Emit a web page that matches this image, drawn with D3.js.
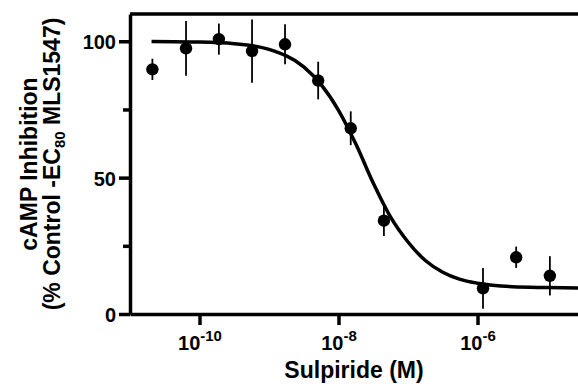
<!DOCTYPE html>
<html>
<head>
<meta charset="utf-8">
<script src="https://cdn.jsdelivr.net/npm/d3@7"></script>
<style>
  body { margin: 0; background: #fff; }
  svg { display: block; }
  text { font-family: "Liberation Sans", Arial, sans-serif; font-weight: bold; fill: #000; }
  .axis path, .axis line { stroke: #000; }
</style>
</head>
<body>
<svg id="chart" width="578" height="392"></svg>
<script>
// sulpiride concentrations (M), mean % inhibition and SEM
var conc = [2.1e-11, 6.4e-11, 1.9e-10, 5.7e-10, 1.7e-9, 5.1e-9, 1.5e-8, 4.5e-8, 1.2e-6, 3.6e-6, 1.1e-5];
var inhibition = [89.7, 97.4, 100.8, 96.4, 98.9, 85.6, 68.1, 34.2, 9.4, 20.8, 14.0];
var sem = [3.9, 10.0, 5.7, 11.6, 7.3, 6.9, 6.2, 5.6, 7.5, 3.9, 7.2];

// fitted curve
var curveLogX = [-10.69, -10, -9.5, -9, -8.5, -8.25, -8, -7.75, -7.5, -7.25, -7, -6.75, -6.5, -6.25, -6, -5.5, -5, -4.5];
var curveY = [99.9, 99.7, 99.1, 97.0, 90.6, 84.1, 74.7, 62.3, 48, 35.5, 26.4, 19.6, 15.3, 12.7, 11.3, 10.0, 9.7, 9.5];

var xTicks = [1e-10, 1e-8, 1e-6];
var xTickExp = ["-10", "-8", "-6"];
var yTicks = [0, 25, 50, 75, 100];
var yLabels = [0, 50, 100];

var svg = d3.select("#chart"),
    margins = {left: 130, top: 14, bottom: 78},
    width = 578,
    height = 392;

var x = d3.scaleLog().domain([1e-11, 1e-4]).range([margins.left, margins.left + 7 * 69.5]);
var y = d3.scaleLinear().domain([0, 110]).range([height - margins.bottom, margins.top]);

// top frame line
svg.append("line")
    .attr("x1", margins.left).attr("x2", width + 10)
    .attr("y1", y(110)).attr("y2", y(110))
    .attr("stroke", "#000").attr("stroke-width", 3.5);

// x axis
var xAxis = svg.append("g")
    .attr("class", "axis")
    .attr("transform", "translate(0," + y(0) + ")")
    .call(d3.axisBottom(x).tickValues(xTicks).tickSize(11).tickPadding(6).tickSizeOuter(0));
xAxis.select(".domain").attr("stroke-width", 3.5);
xAxis.selectAll(".tick line").attr("stroke-width", 3.5);
xAxis.selectAll(".tick text")
    .attr("font-size", 20)
    .attr("dy", "0.95em")
    .text(null)
    .each(function (d, i) {
        var t = d3.select(this);
        t.append("tspan").text("10");
        t.append("tspan").attr("font-size", 15).attr("dy", -9).text(xTickExp[i]);
    });

// y axis
var yAxis = svg.append("g")
    .attr("class", "axis")
    .attr("transform", "translate(" + margins.left + ",0)")
    .call(d3.axisLeft(y).tickValues(yTicks).tickSize(11).tickPadding(3).tickSizeOuter(0)
        .tickFormat(function (d) { return yLabels.indexOf(d) >= 0 ? d : ""; }));
yAxis.select(".domain").attr("stroke-width", 3.5);
yAxis.selectAll(".tick line").attr("stroke-width", 3.5)
    .attr("x2", function (d) { return yLabels.indexOf(d) >= 0 ? -11 : -7; });
yAxis.selectAll(".tick text").attr("font-size", 20).attr("dy", "0.38em");

// fitted curve
var line = d3.line()
    .x(function (d, i) { return x(Math.pow(10, d)); })
    .y(function (d, i) { return y(curveY[i]); })
    .curve(d3.curveMonotoneX);

svg.append("path")
    .attr("d", line(curveLogX))
    .attr("fill", "none")
    .attr("stroke", "#000")
    .attr("stroke-width", 3.5);

// error bars
svg.selectAll(".err")
    .data(conc)
    .enter().append("line")
    .attr("class", "err")
    .attr("x1", function (d) { return x(d); })
    .attr("x2", function (d) { return x(d); })
    .attr("y1", function (d, i) { return y(inhibition[i] - sem[i]); })
    .attr("y2", function (d, i) { return y(inhibition[i] + sem[i]); })
    .attr("stroke", "#000")
    .attr("stroke-width", 1.8);

// points
svg.selectAll(".dot")
    .data(conc)
    .enter().append("circle")
    .attr("class", "dot")
    .attr("cx", function (d) { return x(d); })
    .attr("cy", function (d, i) { return y(inhibition[i]); })
    .attr("r", 6.2)
    .attr("fill", "#000");

// axis titles
svg.append("text")
    .attr("text-anchor", "middle")
    .attr("x", (margins.left + width) / 2)
    .attr("y", 378)
    .attr("font-size", 23)
    .text("Sulpiride (M)");

var yMid = (y(0) + y(110)) / 2;
svg.append("text")
    .attr("text-anchor", "middle")
    .attr("transform", "translate(37," + yMid + ") rotate(-90)")
    .attr("font-size", 23)
    .text("cAMP Inhibition");

var yt = svg.append("text")
    .attr("text-anchor", "middle")
    .attr("transform", "translate(60," + yMid + ") rotate(-90)")
    .attr("font-size", 23);
yt.append("tspan").text("(% Control -EC");
yt.append("tspan").attr("font-size", 15).attr("dy", 5).text("80");
yt.append("tspan").attr("dy", -5).text(" MLS1547)");
</script>
</body>
</html>
